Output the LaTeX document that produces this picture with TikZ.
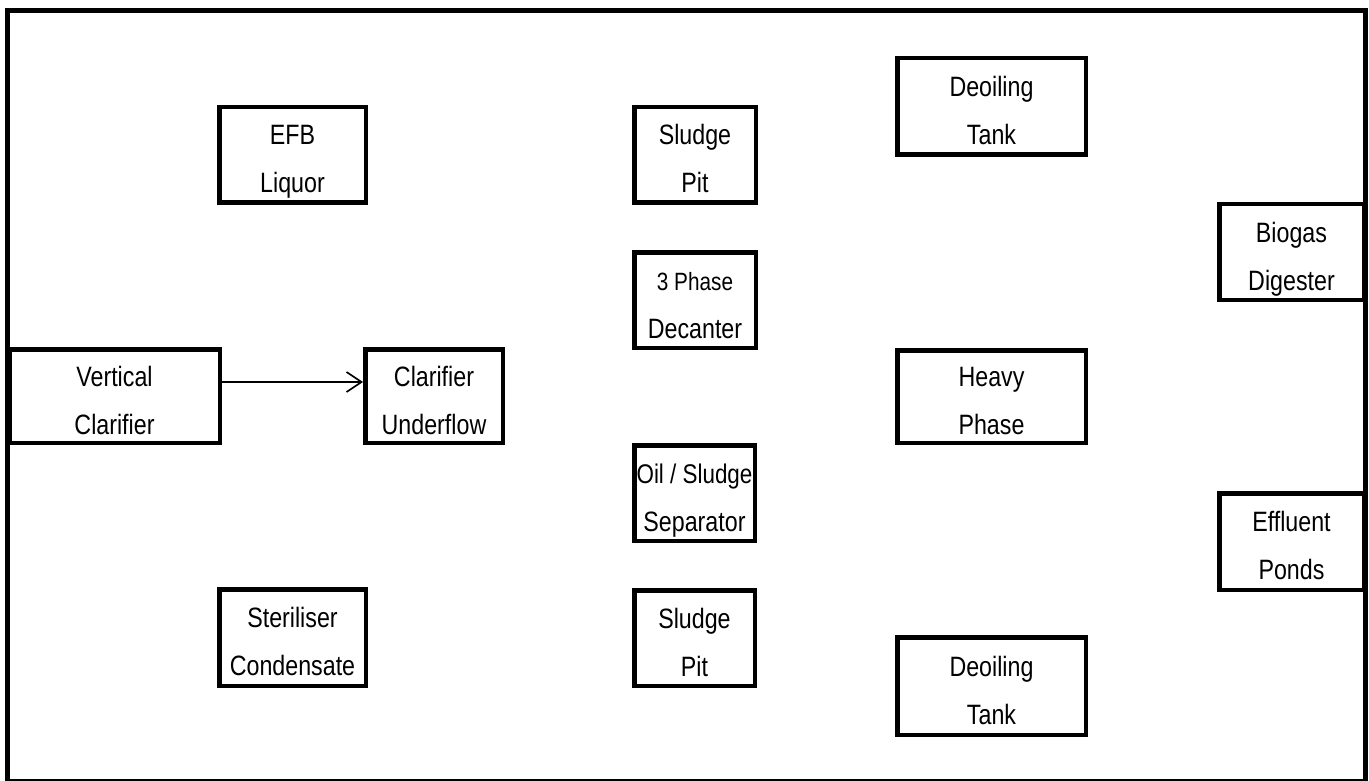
\documentclass[tikz,border=0pt]{standalone}
\usepackage{fontspec}
\setmainfont{Liberation Sans}[FakeStretch=0.83]
\usetikzlibrary{arrows.meta}

\tikzset{
  unit/.style={draw, line width=4.5pt, rectangle, inner sep=0pt},
  lbl/.style={align=center, anchor=base, inner sep=0pt,
    font=\fontsize{28}{48}\selectfont},
  flow/.style={line width=1.6pt, -{Straight Barb[length=15pt,width=20pt]}},
}

\begin{document}
\begin{tikzpicture}[x=1pt, y=-1pt]
\useasboundingbox (0,0) rectangle (1369,781);

% outer frame
\draw[line width=5pt] (7.5,781) -- (7.5,10.5) -- (1365.5,10.5) -- (1365.5,781);
\draw[line width=1.8pt] (7.5,780) -- (1365.5,780);

% process units
\node[unit, minimum width=146.5pt, minimum height=95.5pt] (efb)  at (292.5,155) {};
\node[unit, minimum width=121.5pt, minimum height=95.5pt] (sp1)  at (695,155) {};
\node[unit, minimum width=188.5pt, minimum height=96.5pt] (dt1)  at (991.5,106.5) {};
\node[unit, minimum width=144.5pt, minimum height=95.5pt] (bg)   at (1291.5,252) {};
\node[unit, minimum width=121.5pt, minimum height=95.5pt] (dec)  at (695,300) {};
\node[unit, minimum width=210.5pt, minimum height=93.5pt] (vc)   at (114.5,396) {};
\node[unit, minimum width=137.5pt, minimum height=93.5pt] (cu)   at (434,396) {};
\node[unit, minimum width=188.5pt, minimum height=92.5pt] (hp)   at (991.5,396.5) {};
\node[unit, minimum width=120.5pt, minimum height=95.5pt] (oss)  at (694.5,493) {};
\node[unit, minimum width=120.5pt, minimum height=95.5pt] (sp2)  at (694.5,638) {};
\node[unit, minimum width=146.5pt, minimum height=96.5pt] (sc)   at (292.5,637.5) {};
\node[unit, minimum width=144.5pt, minimum height=96.5pt] (ep)   at (1291.5,541.5) {};
\node[unit, minimum width=188.5pt, minimum height=97.5pt] (dt2)  at (991.5,686) {};

% labels (last baseline 38pt below each box centre)
\node[lbl] at ([yshift=-38pt]efb.center) {EFB\\Liquor};
\node[lbl] at ([yshift=-38pt]sp1.center) {Sludge\\Pit};
\node[lbl] at ([yshift=-38pt]dt1.center) {Deoiling\\Tank};
\node[lbl] at ([yshift=-38pt]bg.center)  {Biogas\\Digester};
\node[lbl] at ([yshift=-38pt]dec.center) {{\fontsize{25}{48}\selectfont 3 Phase}\\Decanter};
\node[lbl] at ([yshift=-38pt]vc.center)  {Vertical\\Clarifier};
\node[lbl] at ([yshift=-38pt]cu.center)  {Clarifier\\Underflow};
\node[lbl] at ([yshift=-38pt]hp.center)  {Heavy\\Phase};
\node[lbl] at ([yshift=-38pt]oss.center) {{\fontsize{27}{48}\selectfont Oil / Sludge}\\Separator};
\node[lbl] at ([yshift=-38pt]sp2.center) {Sludge\\Pit};
\node[lbl] at ([yshift=-38pt]sc.center)  {Steriliser\\Condensate};
\node[lbl] at ([yshift=-38pt]ep.center)  {Effluent\\Ponds};
\node[lbl] at ([yshift=-38pt]dt2.center) {Deoiling\\Tank};

% flow
\draw[flow] ([yshift=14pt]vc.east) -- ([yshift=14pt]cu.west);
\end{tikzpicture}
\end{document}
